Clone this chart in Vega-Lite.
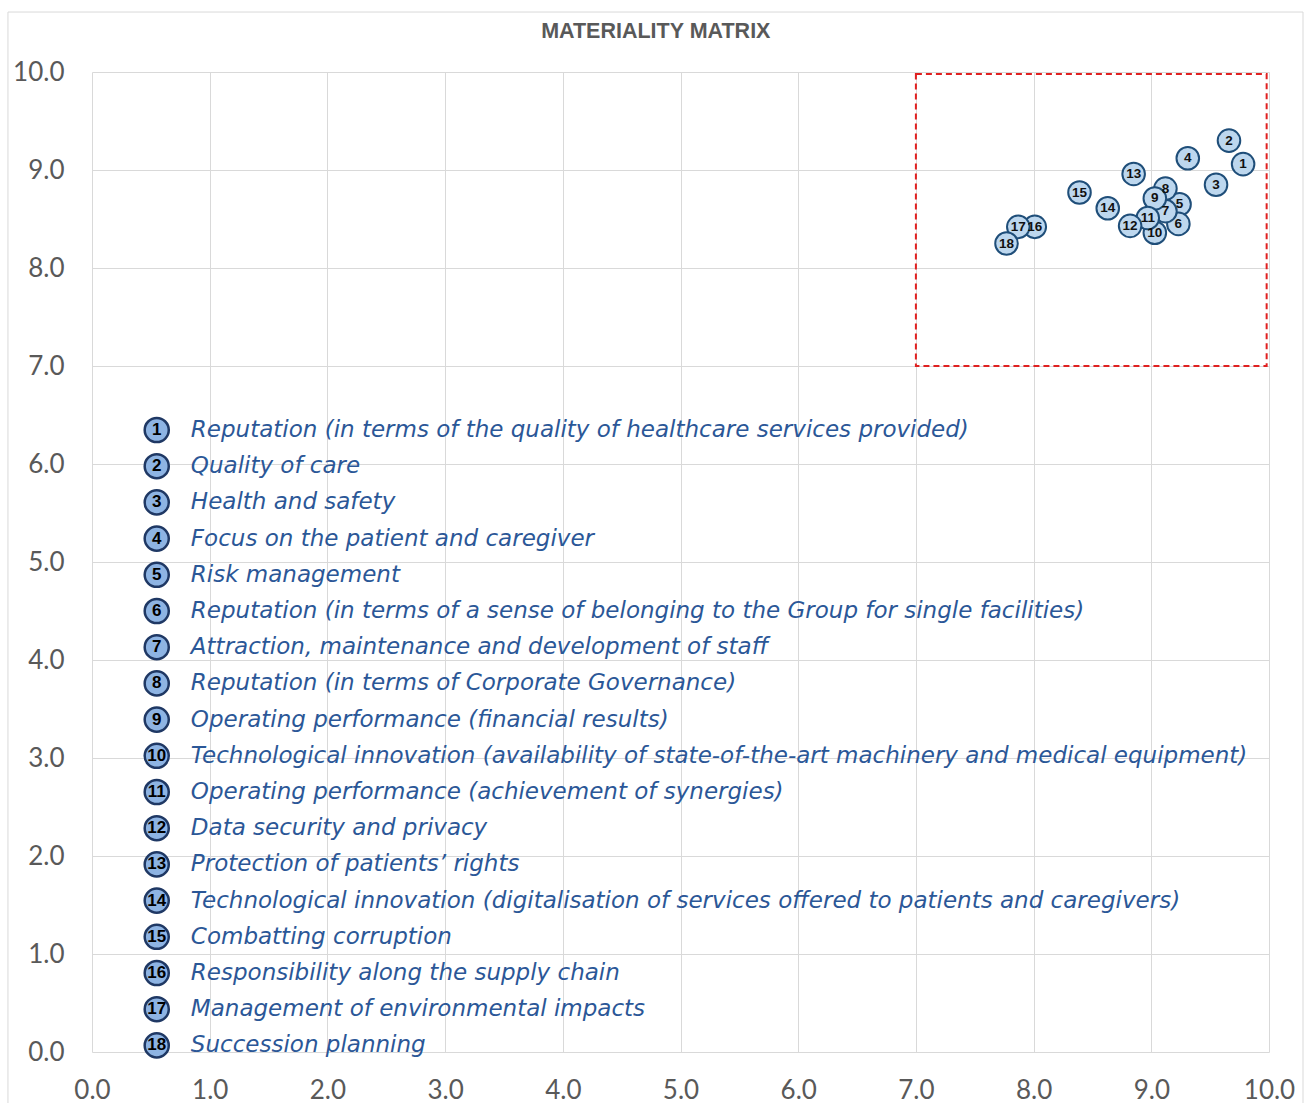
{
  "$schema": "https://vega.github.io/schema/vega-lite/v6.json",
  "width": 1177,
  "height": 980,
  "autosize": {"type": "none"},
  "padding": {"left": 92, "top": 72, "right": 37, "bottom": 51},
  "background": "white",
  "config": {"view": {"stroke": null}},
  "datasets": {
    "topics": [
      {"id": 1, "label": "Reputation (in terms of the quality of healthcare services provided)", "x": 9.78, "y": 9.06},
      {"id": 2, "label": "Quality of care", "x": 9.66, "y": 9.30},
      {"id": 3, "label": "Health and safety", "x": 9.55, "y": 8.85},
      {"id": 4, "label": "Focus on the patient and caregiver", "x": 9.31, "y": 9.12},
      {"id": 5, "label": "Risk management", "x": 9.24, "y": 8.65},
      {"id": 6, "label": "Reputation (in terms of a sense of belonging to the Group for single facilities)", "x": 9.23, "y": 8.45},
      {"id": 7, "label": "Attraction, maintenance and development of staff", "x": 9.12, "y": 8.58},
      {"id": 8, "label": "Reputation (in terms of Corporate Governance)", "x": 9.12, "y": 8.81},
      {"id": 9, "label": "Operating performance (financial results)", "x": 9.03, "y": 8.71},
      {"id": 10, "label": "Technological innovation (availability of state-of-the-art machinery and medical equipment)", "x": 9.03, "y": 8.36},
      {"id": 11, "label": "Operating performance (achievement of synergies)", "x": 8.97, "y": 8.51},
      {"id": 12, "label": "Data security and privacy", "x": 8.82, "y": 8.43},
      {"id": 13, "label": "Protection of patients’ rights", "x": 8.85, "y": 8.96},
      {"id": 14, "label": "Technological innovation (digitalisation of services offered to patients and caregivers)", "x": 8.63, "y": 8.61},
      {"id": 15, "label": "Combatting corruption", "x": 8.39, "y": 8.77},
      {"id": 16, "label": "Responsibility along the supply chain", "x": 8.01, "y": 8.42},
      {"id": 17, "label": "Management of environmental impacts", "x": 7.87, "y": 8.42},
      {"id": 18, "label": "Succession planning", "x": 7.77, "y": 8.25}
    ],
    "box": [{"x1": 7.0, "x2": 9.98, "y1": 7.0, "y2": 9.98}],
    "frame": [{"x1": -0.714, "x2": 10.289, "y1": -0.6, "y2": 10.612}],
    "heading": [{"title": "MATERIALITY MATRIX"}]
  },
  "resolve": {"scale": {"y": "independent"}},
  "layer": [
    {
      "layer": [
        {
          "data": {"name": "box"},
          "mark": {"type": "rect", "fill": null, "stroke": "#E02020", "strokeWidth": 2, "strokeDash": [6, 4]},
          "encoding": {
            "x": {"field": "x1", "type": "quantitative", "scale": {"domain": [0, 10], "nice": false, "zero": false},
              "axis": {"values": [0, 1, 2, 3, 4, 5, 6, 7, 8, 9, 10], "format": ".1f", "title": null, "grid": true, "gridColor": "#D9D9D9", "gridWidth": 1, "domain": false, "ticks": false, "labelFont": "Lato", "labelFontSize": 26, "labelColor": "#595959", "labelPadding": 25, "labelFlush": false, "labelOverlap": false}},
            "x2": {"field": "x2"},
            "y": {"field": "y1", "type": "quantitative", "scale": {"domain": [0, 10], "nice": false, "zero": false},
              "axis": {"values": [0, 1, 2, 3, 4, 5, 6, 7, 8, 9, 10], "format": ".1f", "title": null, "grid": true, "gridColor": "#D9D9D9", "gridWidth": 1, "domain": false, "ticks": false, "labelFont": "Lato", "labelFontSize": 26, "labelColor": "#595959", "labelPadding": 28, "labelOverlap": false}},
            "y2": {"field": "y2"}
          }
        },
        {
          "data": {"name": "frame"},
          "mark": {"type": "rect", "fill": null, "stroke": "#D9D9D9", "strokeWidth": 1, "clip": false},
          "encoding": {
            "x": {"field": "x1", "type": "quantitative"},
            "x2": {"field": "x2"},
            "y": {"field": "y1", "type": "quantitative"},
            "y2": {"field": "y2"}
          }
        },
        {
          "data": {"name": "heading"},
          "mark": {"type": "text", "font": "Liberation Sans", "fontWeight": "bold", "fontSize": 21.5, "color": "#595959", "align": "center", "baseline": "middle"},
          "encoding": {
            "x": {"datum": 4.79, "type": "quantitative"},
            "y": {"datum": 10.41, "type": "quantitative"},
            "text": {"field": "title"}
          }
        },
        {
          "data": {"name": "topics"},
          "mark": {"type": "circle", "size": 510, "fill": "#BDD7EE", "fillOpacity": 1, "stroke": "#1F4E79", "strokeWidth": 2, "opacity": 1},
          "encoding": {
            "x": {"field": "x", "type": "quantitative"},
            "y": {"field": "y", "type": "quantitative"},
            "order": {"field": "id"}
          }
        },
        {
          "data": {"name": "topics"},
          "mark": {"type": "text", "font": "Liberation Sans", "fontWeight": "bold", "fontSize": 13.5, "color": "#111111", "align": "center", "baseline": "middle"},
          "encoding": {
            "x": {"field": "x", "type": "quantitative"},
            "y": {"field": "y", "type": "quantitative"},
            "text": {"field": "id"}
          }
        }
      ]
    },
    {
      "data": {"name": "topics"},
      "layer": [
        {
          "mark": {"type": "circle", "size": 580, "fill": "#8EB4E3", "fillOpacity": 1, "stroke": "#1F3864", "strokeWidth": 2.5, "opacity": 1},
          "encoding": {
            "x": {"datum": 0.55, "type": "quantitative"},
            "y": {"field": "id", "type": "quantitative", "scale": {"domain": [-8.89, 18.182], "reverse": true, "nice": false, "zero": false}, "axis": null}
          }
        },
        {
          "mark": {"type": "text", "font": "Liberation Sans", "fontWeight": "bold", "fontSize": 17, "color": "#000000", "align": "center", "baseline": "middle"},
          "encoding": {
            "x": {"datum": 0.55, "type": "quantitative"},
            "y": {"field": "id", "type": "quantitative", "axis": null},
            "text": {"field": "id"}
          }
        },
        {
          "mark": {"type": "text", "font": "DejaVu Sans", "fontStyle": "italic", "fontSize": 23, "color": "#2B5797", "align": "left", "baseline": "middle"},
          "encoding": {
            "x": {"datum": 0.84, "type": "quantitative"},
            "y": {"field": "id", "type": "quantitative", "axis": null},
            "text": {"field": "label"}
          }
        }
      ]
    }
  ]
}
